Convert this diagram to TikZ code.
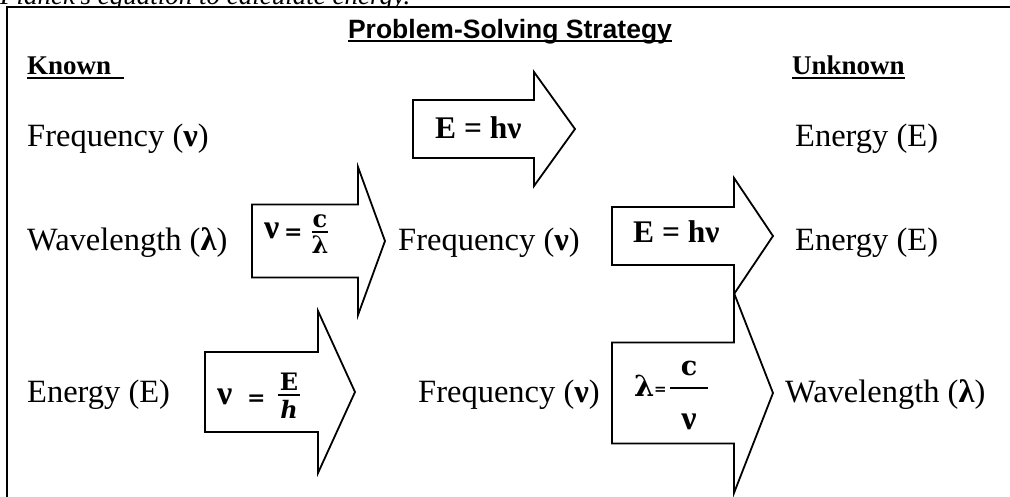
\documentclass[tikz,border=0pt]{standalone}
\usepackage{fontspec}
\setmainfont{Liberation Serif}
\newfontfamily\arialfont{Liberation Sans}
\newfontfamily\mathlike{DejaVu Serif}
\newcommand{\myul}[2]{\setbox0\hbox{#2}\rlap{\rule[-#1]{\wd0}{2pt}}\box0}
\newcommand{\blockarrow}[6]{%
  \draw[arrowshape] (#1,#4-#5) -- (#2,#4-#5) -- (#2,#4-#6) -- (#3,#4)
    -- (#2,#4+#6) -- (#2,#4+#5) -- (#1,#4+#5) -- cycle;}
\begin{document}
\begin{tikzpicture}[x=1pt,y=-1pt,
  txt/.style={inner sep=0pt, anchor=base west, font=\fontsize{32.5}{38}\selectfont},
  headtxt/.style={inner sep=0pt, anchor=base west, font=\fontsize{27}{32}\selectfont\bfseries},
  lbl/.style={inner sep=0pt, anchor=base west, font=\fontsize{31.5}{38}\selectfont\bfseries},
  frac/.style={inner sep=0pt, font=\mathlike\fontsize{24}{28}\selectfont\bfseries},
  nustyle/.style={inner sep=0pt, font=\fontsize{34}{40}\selectfont\bfseries},
  eqs/.style={inner sep=0pt, anchor=base west, font=\mathlike\fontsize{22}{26}\selectfont\bfseries},
  arrowshape/.style={draw, line width=1.8pt, line join=miter, fill=white},
  bar/.style={line width=2pt}]
\useasboundingbox (0,0) rectangle (1010,497);
\clip (0,0) rectangle (1010,497);
% cut-off sentence above the frame
\node[inner sep=0pt, anchor=base west, font=\fontsize{27}{32}\selectfont\itshape] (note) at (0,5) {Planck’s equation to calculate energy.};
\fill[white] (0,7) rectangle (1010,497);
% frame
\draw[line width=2pt] (7,510) -- (7,7) -- (1020,7);
% title and headings
\node[inner sep=0pt, anchor=base, font=\arialfont\bfseries\fontsize{26.5}{30}\selectfont] (title) at (510,39) {\myul{3.5pt}{Problem-Solving Strategy}};
\node[headtxt] (known) at (27,75) {\myul{4pt}{Known\hspace{13pt}}};
\node[headtxt] (unknown) at (792,75) {\myul{4pt}{Unknown}};
% block arrows
\blockarrow{413}{534}{575}{129}{29}{57}
\blockarrow{252}{358}{385}{241}{36.5}{74}
\blockarrow{612}{734}{773}{236}{29}{58}
\blockarrow{205}{318}{355}{392}{40}{81}
\blockarrow{612}{734}{773}{393}{50.5}{100}
% row 1
\node[txt] (f1) at (27,147) {Frequency (\textbf{ν})};
\node[lbl] (a1) at (435,139) {E = hν};
\node[txt] (e1) at (795,147) {Energy (E)};
% row 2
\node[txt] (w2) at (27,251) {Wavelength (\textbf{λ})};
\node[nustyle, anchor=base west] (nu2) at (264,239) {ν};
\node[eqs] (eq2) at (284,240) {=};
\node[frac, anchor=base] (c2) at (320,228) {c};
\node[frac, anchor=north] (l2) at (320,236) {λ};
\draw[bar] (312,232) -- (328,232);
\node[txt] (f2) at (398,251) {Frequency (\textbf{ν})};
\node[lbl] (a3) at (633,243) {E = hν};
\node[txt] (e2) at (795,251) {Energy (E)};
% row 3
\node[txt] (e3) at (27,402) {Energy (E)};
\node[nustyle, anchor=base west] (nu4) at (217,404) {ν};
\node[eqs] (eq4) at (247,405) {=};
\node[frac, anchor=base] (E4) at (289,390) {E};
\node[frac, anchor=north, font=\mathlike\fontsize{24}{28}\selectfont\bfseries\itshape] (h4) at (289,400) {h};
\draw[bar] (278,395) -- (300,395);
\node[txt] (f3) at (418,402) {Frequency (\textbf{ν})};
\node[frac, anchor=base west, font=\mathlike\fontsize{29}{34}\selectfont\bfseries] (l5) at (634,396) {λ};
\node[eqs, font=\mathlike\fontsize{15}{18}\selectfont\bfseries] (eq5) at (654,394) {=};
\node[frac, anchor=base, font=\mathlike\fontsize{27}{32}\selectfont\bfseries] (c5) at (689,375) {c};
\node[nustyle, anchor=north] (n5) at (689,414) {ν};
\draw[bar] (670,388) -- (708,388);
\node[txt] (w5) at (785,402) {Wavelength (\textbf{λ})};
\end{tikzpicture}
\end{document}
